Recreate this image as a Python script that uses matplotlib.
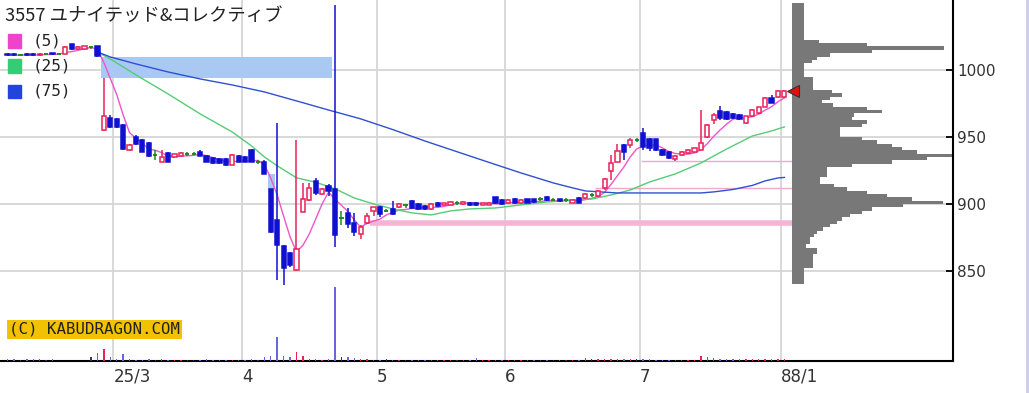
import numpy as np
import pandas as pd
import matplotlib
matplotlib.use('Agg')
import matplotlib.pyplot as plt
from matplotlib.patches import Rectangle

# ---- data ----
title = '3557 ユナイテッド&コレクティブ'
month_pos = [17, 37, 58, 78, 99, 121]      # candle index of first trading day
month_lbl = ['25/3', '4', '5', '6', '7', '88/1']

opens = [1012, 1012, 1011.5, 1012, 1012, 1011, 1012, 1012.5, 1012, 1012,
         1019, 1015.5, 1016, 1017, 1017.5, 955.2, 964.2, 963.2, 959, 940.3,
         950.2, 947.8, 945.8, 936.6, 931.6, 938, 935, 936, 937.3, 937.3,
         939, 935.8, 934.3, 933.5, 933.5, 929.3, 935.8, 935.3, 940, 931,
         931.6, 911, 888, 868.9, 863.2, 850.7, 894.3, 903, 917.4, 907.5,
         913.4, 911, 889.2, 893, 885.6, 877.5, 885.6, 895, 897.5, 895,
         896.3, 897.6, 899.3, 902.5, 900, 898.5, 896, 901, 899.3, 899.3,
         900.8, 899.8, 901, 901, 899.2, 899.5, 905, 903, 900.5, 904,
         900.5, 903.5, 903.5, 903.5, 905.5, 903, 903.5, 903, 901, 904.3,
         904.3, 906.5, 906, 911.7, 924.9, 931.6, 944, 944, 947.8, 952.8,
         948.3, 948.3, 940.3, 939, 933.4, 936.6, 937.8, 939, 940.3, 949.8,
         962.7, 969.6, 968.9, 967.2, 966.4, 960.2, 965.7, 967.7, 972.6, 978.9,
         979.6, 979.6]
highs = [1012.5, 1012.5, 1012, 1012.5, 1012.5, 1012.5, 1013, 1013, 1012.5, 1018,
         1019.5, 1018, 1018, 1018, 1018, 994, 966.4, 964, 959.5, 945,
         951.5, 948.5, 946.5, 940.3, 940, 939, 937.5, 938.8, 939, 938.5,
         940, 936.5, 935, 934, 934, 937, 936.5, 936, 941, 932.5,
         932.5, 911.2, 960.4, 869.5, 864, 947.8, 915.7, 915.7, 919, 912,
         915, 1048.5, 894.8, 896.7, 893, 884, 893.3, 898, 898.5, 896.3,
         901.9, 900.5, 900, 903, 900.5, 899, 900.5, 901.5, 901, 902.5,
         902.5, 902.5, 901.5, 901.5, 901, 901.5, 905.5, 903.5, 903.5, 904.5,
         903.5, 904, 904, 905, 906, 904.5, 904, 904.5, 903.5, 905,
         908, 908, 910.5, 919.6, 936.6, 944.6, 944.5, 949, 949.5, 956.5,
         949.5, 948.8, 941, 939.5, 936.5, 939.5, 941, 942, 970.1, 960,
         967.5, 973.3, 969.5, 967.8, 967, 966, 970.5, 972.7, 979.5, 981.3,
         985, 985]
lows = [1010.5, 1010.5, 1011, 1010.5, 1010.5, 1010.5, 1011.5, 1011.5, 1011.5, 1012,
        1015, 1015, 1015.5, 1016, 1009.7, 954.5, 957, 957, 940.5, 939.5,
        944, 938.5, 935, 932.8, 931, 931, 934.5, 935.5, 936, 936.5,
        935.5, 931, 930, 930, 928.5, 929, 931, 931, 931, 929.5,
        922.4, 878, 843.3, 839.6, 853, 850, 894, 902.5, 907, 907,
        905.7, 867.9, 884.3, 882.1, 876.1, 873.8, 885, 891, 890, 893.7,
        892, 897, 897, 896, 895.5, 895.5, 895.5, 898, 899, 899,
        899, 899.5, 898.5, 898.5, 899, 899, 900, 899.5, 900, 900,
        900, 900.5, 901, 902.5, 902.5, 902, 901.5, 901.5, 900.5, 900.5,
        904, 905.5, 905.5, 910.4, 918, 931, 932.8, 942, 946.5, 940.3,
        939.5, 939.5, 936, 933.5, 932, 936, 937.5, 938.5, 940, 949,
        960, 963, 962.5, 963.5, 962.5, 959.5, 965, 967, 972, 975,
        979, 979]
closes = [1011, 1011, 1011.5, 1011, 1011, 1012, 1012, 1012, 1012, 1017,
          1015.5, 1017, 1017.5, 1017, 1010.5, 965.7, 957.7, 957.7, 940.8, 944,
          944.8, 939.1, 935.8, 936.6, 935.3, 931.6, 937.3, 938, 937.3, 937.3,
          935.8, 931.6, 930.6, 930.6, 929.3, 936.6, 931.6, 931.6, 931.6, 931,
          922.4, 879.3, 869.4, 852, 854.5, 866.2, 903.5, 911.7, 908, 911,
          910, 876.9, 889.2, 885.1, 879.3, 883, 891, 897.5, 892.5, 895,
          892.5, 900, 899.3, 896.8, 896, 896, 900, 898.5, 900.5, 901.7,
          900.8, 901.8, 899.3, 899.3, 900.5, 901, 900.5, 900, 903, 900.5,
          903, 901, 901.5, 903.5, 903, 903, 902, 903, 903, 901,
          907.5, 906.5, 910, 918.4, 930.8, 939.8, 939, 947.8, 947.8, 942.8,
          941.6, 940.3, 936.6, 934.1, 935.8, 939, 940.3, 941.6, 945.3, 959,
          966.4, 964, 963.2, 964, 963.2, 965.7, 970.1, 972.2, 978.9, 975.7,
          984.6, 984]
volumes = [20, 20, 15, 20, 20, 20, 15, 20, 5, 5,
           5, 5, 5, 37, 83, 117, 37, 20, 67, 20,
           15, 15, 20, 10, 20, 15, 15, 10, 15, 10,
           15, 20, 15, 15, 15, 10, 15, 15, 20, 10,
           37, 50, 243, 50, 37, 87, 50, 20, 20, 15,
           20, 740, 37, 37, 30, 20, 20, 15, 10, 20,
           15, 10, 10, 10, 10, 10, 10, 10, 10, 10,
           10, 10, 10, 30, 10, 10, 10, 10, 10, 10,
           10, 10, 10, 10, 10, 10, 10, 10, 10, 10,
           30, 25, 25, 25, 25, 25, 25, 25, 25, 25,
           25, 15, 15, 15, 15, 15, 15, 15, 50, 40,
           30, 20, 20, 20, 20, 20, 20, 20, 20, 20,
           20, 20]

ma25_idx = [14, 16, 20, 25, 30, 35, 38, 40, 42, 45, 48, 51, 54, 57, 60, 63, 66,
            69, 72, 76, 80, 84, 88, 91, 94, 97, 100, 104, 108, 112, 116, 119, 121]
ma25 = [1013.4, 1008.2, 996.3, 982.1, 967.2, 953.7, 943.3, 935.1, 928.5, 919.5,
        916.2, 911.3, 904.5, 900, 896.3, 893.3, 891.8, 894.8, 896.3, 897,
        899.3, 901.5, 902.6, 903.7, 906.7, 910.4, 916.4, 922.4, 930.6, 941,
        950.7, 954.5, 957.5]
ma75_idx = [14, 16, 20, 25, 30, 35, 40, 45, 50, 55, 60, 65, 70, 75, 80, 85, 88,
            90, 95, 100, 105, 108, 110, 113, 116, 118, 120, 121]
ma75 = [1013.4, 1009.7, 1004.5, 998.5, 993.3, 988.8, 983.6, 976.9, 970.1, 963.5,
        955.5, 947, 939, 931, 923.1, 915.7, 912, 909.7, 908.2, 908.2,
        908.2, 908.2, 909, 910.8, 913.8, 917.2, 919.4, 919.8]

# price-volume profile (2.5 yen bins from 840)
prof_vol = [12, 12, 12, 12, 12, 21, 21, 21, 21, 25, 25, 14,
            18, 18, 22, 25, 31, 38, 45, 50, 58, 70, 80, 111,
            151, 120, 95, 75, 55, 42, 28, 28, 35, 35, 35, 60,
            100, 135, 161, 125, 110, 100, 85, 70, 48, 48, 48, 70,
            75, 60, 62, 90, 75, 41, 30, 38, 50, 40, 21, 21,
            21, 21, 12, 12, 12, 12, 20, 25, 38, 80, 152, 75,
            27, 12, 12, 12, 12, 12, 12, 12, 12, 12, 12, 12]
prof_base = 840
prof_step = 2.5

gaps = [(14, 51), (40, 42)]           # (day before gap, day the gap was filled)
pink_levels = [885.5, 911.7, 932.0]
pink_from = [56.5, 91.5, 98.7]

# ---- colours ----
RED = '#e8205a'
BLUE = '#1010d0'
GREEN = '#1f8a1f'

W, H = 1029, 393
fig = plt.figure(figsize=(W / 100, H / 100), dpi=100)
fig.patch.set_facecolor('white')
ax = fig.add_axes([0, 1 - 361 / H, 953 / W, 361 / H])
ax.set_facecolor('white')

n = len(closes)
x = np.arange(n)
dx = 6.42
ax.set_xlim(-7.56 / dx, (953 - 7.56) / dx)
ax.set_ylim(782.8, 1052.2)

# grid
for p in month_pos:
    ax.axvline(p - 0.5, color='#d6d6d6', lw=1.3, zorder=0)
for lv in [850, 900, 950, 1000]:
    ax.axhline(lv, color='#d6d6d6', lw=1.3, zorder=0)

# gap windows
for a, b in gaps:
    ax.add_patch(Rectangle((a + 0.5, highs[a + 1]), b - 0.4 - (a + 0.5),
                           lows[a] - highs[a + 1], color='#a9c9f3', lw=0, zorder=1))

# support lines
ax.hlines(pink_levels[0], pink_from[0], n + 0.6, color='#f6b4d4', lw=4, zorder=1)
ax.hlines(pink_levels[1:], pink_from[1:], n + 0.6, color='#f0a8cc', lw=1, zorder=1)

# moving averages
ma5 = pd.Series(closes).rolling(5, min_periods=1).mean()
ax.plot(x, ma5, color='#ee55cc', lw=1.0, zorder=3)
ax.plot(ma25_idx, ma25, color='#55cc77', lw=1.0, zorder=3)
ax.plot(ma75_idx, ma75, color='#3050d0', lw=1.0, zorder=3)

# candles
bw = 0.66
for i in range(n):
    o, h, l, c = opens[i], highs[i], lows[i], closes[i]
    if c > o:
        col = RED
    elif c < o:
        col = BLUE
    else:
        col = GREEN
    ax.vlines(i, l, h, color=col, lw=1.1, zorder=4)
    if col == GREEN:
        ax.hlines(c, i - bw / 2, i + bw / 2, color=col, lw=1.4, zorder=5)
    else:
        ax.add_patch(Rectangle((i - bw / 2, min(o, c)), bw, max(abs(c - o), 0.6),
                               facecolor='white' if col == RED else BLUE,
                               edgecolor=col, lw=1.1, zorder=5))

# price profile
prof_left = (792 - 7.56) / dx
prof_price = prof_base + prof_step * np.arange(len(prof_vol))
ax.barh(prof_price, np.array(prof_vol) / dx, height=prof_step, left=prof_left,
        align='edge', color='#787878', lw=0, zorder=2)

# last price marker
ax.plot(prof_left + 0.1, closes[-1], marker='<', ms=8, color='#e01010',
        mec='#333333', mew=0.8, zorder=6, clip_on=False)

# axes styling
for s in ['left', 'top']:
    ax.spines[s].set_visible(False)
for s in ['right', 'bottom']:
    ax.spines[s].set_color('black')
    ax.spines[s].set_linewidth(1.5)
ax.yaxis.tick_right()
ax.set_yticks([850, 900, 950, 1000])
ax.tick_params(axis='y', direction='in', length=5, width=1.3, pad=3,
               labelsize=11, labelcolor='#333333')
ax.set_xticks([p - 0.5 for p in month_pos])
ax.set_xticklabels(month_lbl, ha='left')
ax.tick_params(axis='x', length=0, pad=5, labelsize=12, labelcolor='#333333')

# volume on its own scale
axv = fig.add_axes(ax.get_position(), sharex=ax)
axv.patch.set_visible(False)
axv.set_ylim(0, 3610)
vcol = [RED if closes[i] > opens[i] else ('#6666dd' if closes[i] < opens[i] else '#333366')
        for i in range(n)]
axv.bar(x, volumes, width=0.22, color=vcol, lw=0)
axv.axis('off')

# title, legend, copyright
fig.text(5 / W, 1 - 17 / H, title, fontsize=13.2, va='center', color='#222222',
         family=['Noto Sans CJK JP', 'DejaVu Sans'])
leg = [('(5)', '#ee44cc', 41), ('(25)', '#33cc77', 66), ('(75)', '#2244dd', 91)]
for lbl, col, yc in leg:
    fig.add_artist(Rectangle((8 / W, 1 - (yc + 6.5) / H), 13 / W, 13 / H,
                             transform=fig.transFigure, color=col))
    fig.text(33 / W, 1 - yc / H, lbl, fontsize=11.5, va='center',
             family='DejaVu Sans Mono', color='#222222')
fig.text(9 / W, 1 - 329.5 / H, '(C) KABUDRAGON.COM', fontsize=11.3, va='center',
         family='DejaVu Sans Mono', color='#222222',
         bbox=dict(fc='#f2c200', ec='none', pad=1.5))

fig.add_artist(plt.Line2D([1027 / W, 1027 / W], [0, 1], transform=fig.transFigure,
                          color='#ccccee', lw=2))

fig.savefig('out.png', dpi=100)
